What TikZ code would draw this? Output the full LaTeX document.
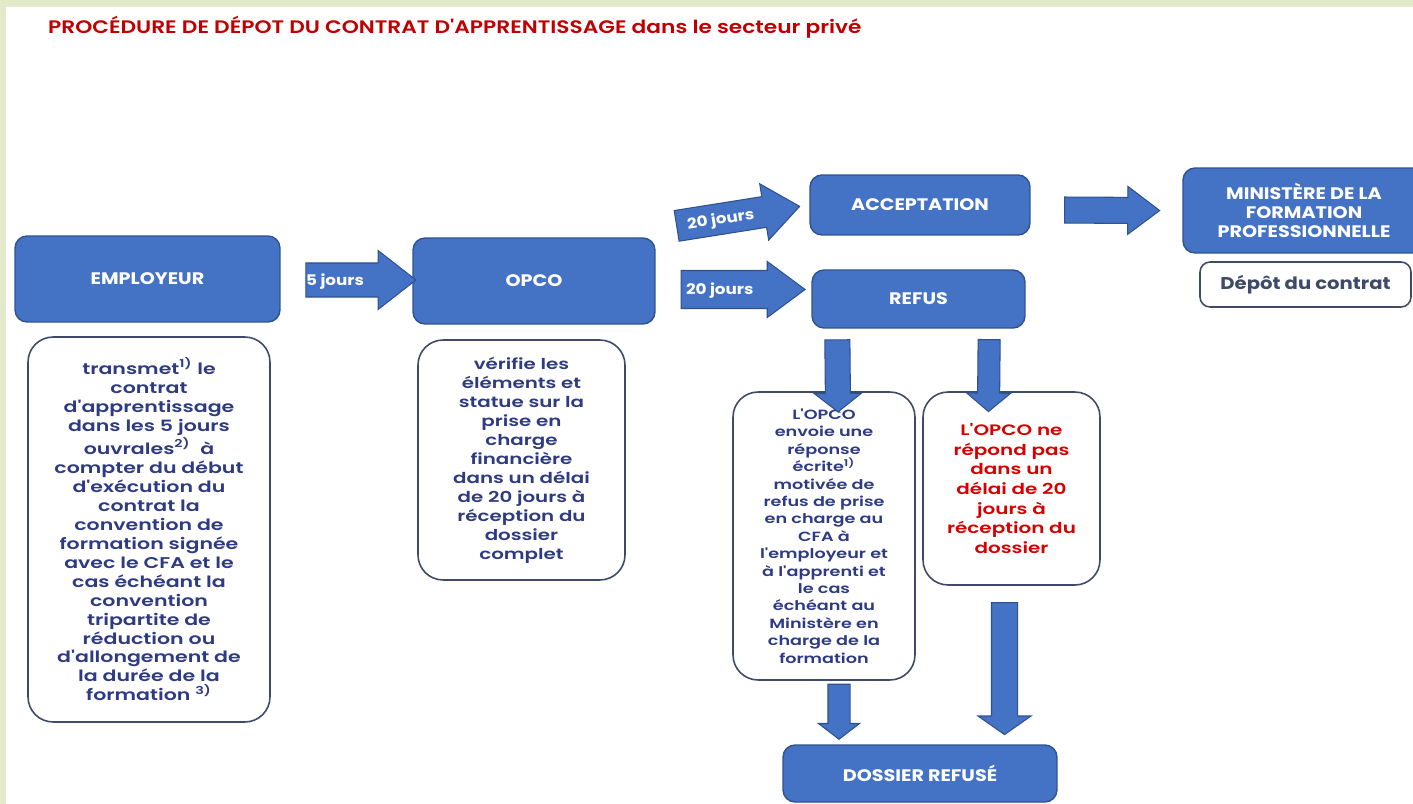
\documentclass[tikz,border=0pt]{standalone}
\usepackage{fontspec}
\setmainfont{Poppins}[FakeStretch=1.15]
\newfontfamily\notefont{Poppins SemiBold}[FakeStretch=1.32]
\newfontfamily\titlefont{Poppins SemiBold}[FakeStretch=1.2]
\usetikzlibrary{shapes.arrows,calc}

\definecolor{boxblue}{HTML}{4472C4}
\definecolor{boxline}{HTML}{2F528F}
\definecolor{noteline}{HTML}{3E4A68}
\definecolor{notetext}{HTML}{2E3B82}
\definecolor{titlered}{HTML}{C00000}
\definecolor{silencered}{HTML}{D60000}
\definecolor{framegreen}{HTML}{E2EACB}

\newcommand{\pastille}[2]{\makebox[0pt]{\raisebox{-0.36em}[0pt][0pt]{#2}\hspace{#1}}}

\tikzset{
  bluebox/.style={draw=boxline, fill=boxblue, line width=0.8pt, rounded corners=0.24cm,
    text=white, align=center, font=\bfseries\fontsize{9.5}{10.8}\selectfont},
  notebox/.style={draw=noteline, fill=white, line width=0.9pt, rounded corners=0.5cm,
    text=notetext, align=center, font=\notefont\fontsize{8.85}{10.8}\selectfont},
  blockarrow/.style={single arrow, draw=boxline, fill=boxblue, line width=0.6pt,
    inner xsep=0pt, minimum width=0pt, text height=0pt, text depth=0pt,
    text=white, font=\bfseries\fontsize{8.3}{9.6}\selectfont,
    midway, sloped, allow upside down},
}

\begin{document}
\begin{tikzpicture}[x=0.02cm,y=-0.02cm]
	\useasboundingbox (0,0) rectangle (1413,804);
	\fill[framegreen] (0,0) rectangle (1413,804);
	\fill[white] (6,7) rectangle (1413,804);

	\node[anchor=west, text=titlered, font=\titlefont\fontsize{10.3}{12.6}\selectfont] (titre) at (42,27)
		{PROCÉDURE DE DÉPOT DU CONTRAT D'APPRENTISSAGE dans le secteur privé};

	\coordinate (E) at (147.5,279);
	\coordinate (O) at (534,281);
	\coordinate (A) at (920,205);
	\coordinate (R) at (918.5,299);
	\coordinate (M) at (1304,210.5);
	\coordinate (D) at (1305.5,284.5);
	\coordinate (TE) at (149,529.5);
	\coordinate (TO) at (521.5,460);
	\coordinate (TL) at (824,536);
	\coordinate (TS) at (1011.5,488.5);
	\coordinate (F) at (920,773.5);

	\node[bluebox, minimum width=5.3cm, minimum height=1.72cm] (emp) at (E) {EMPLOYEUR};
	\node[bluebox, minimum width=4.84cm, minimum height=1.72cm] (opco) at (O) {OPCO};
	\node[bluebox, minimum width=4.4cm, minimum height=1.2cm] (acc) at (A) {ACCEPTATION};
	\node[bluebox, minimum width=4.26cm, minimum height=1.16cm] (refus) at (R) {REFUS};
	\node[bluebox, minimum width=4.84cm, minimum height=1.7cm] (mfp) at (M)
		{MINISTÈRE DE LA\\FORMATION\\PROFESSIONNELLE};
	\node[notebox, rounded corners=0.2cm, text=noteline, font=\bfseries\fontsize{9.7}{12}\selectfont,
		minimum width=4.22cm, minimum height=0.9cm] (depot) at (D) {Dépôt du contrat};
	\node[bluebox, minimum width=5.48cm, minimum height=1.14cm] (dossier) at (F) {DOSSIER REFUSÉ};

	\node[notebox, minimum width=4.84cm, minimum height=7.7cm] (temp) at (TE)
		{transmet\textsuperscript{1)} le\\contrat\\d'apprentissage\\dans les 5 jours\\
		ouvrales\textsuperscript{2)}\ \ à\\compter du début\\d'exécution du\\contrat la\\
		convention de\\formation signée\\avec le CFA et le\\cas échéant la\\convention\\
		tripartite de\\réduction ou\\d'allongement de\\la durée de la\\formation \textsuperscript{3)}};
	\node[notebox, font=\notefont\fontsize{8.55}{10.8}\selectfont, minimum width=4.14cm, minimum height=4.8cm] (topco) at (TO)
		{vérifie les\\éléments et\\statue sur la\\prise en\\charge\\financière\\
		dans un délai\\de 20 jours à\\réception du\\dossier\\complet};
	\node[notebox, font=\notefont\fontsize{7.6}{9.9}\selectfont, minimum width=3.64cm, minimum height=5.76cm] (tlettre) at (TL)
		{L'OPCO\\envoie une\\réponse\\écrite\textsuperscript{1)}\\motivée de\\refus de prise\\
		en charge au\\CFA à\\l'employeur et\\à l'apprenti et\\le cas\\échéant au\\
		Ministère en\\charge de la\\formation};
	\node[notebox, text=silencered, font=\notefont\fontsize{8.6}{11.2}\selectfont, minimum width=3.54cm, minimum height=3.86cm] (tsilence) at (TS)
		{L'OPCO ne\\répond pas\\dans un\\délai de 20\\jours à\\réception du\\dossier};

	\path ($(emp.east)+(15,1)$) -- ($(opco.west)+(-8,-1)$)
		node[blockarrow, minimum height=2.2cm, inner ysep=0.33cm,
			single arrow head extend=0.25cm, single arrow tip angle=76] {\pastille{0.6cm}{5 jours}};
	\path ($(opco.north east)+(12,-10)$) -- ($(acc.west)+(-20,3)$)
		node[blockarrow, minimum height=2.49cm, inner ysep=0.3cm,
			single arrow head extend=0.26cm, single arrow tip angle=77] {\pastille{0.32cm}{20 jours}};
	\path ($(opco.east)+(13,8.5)$) -- ($(refus.west)+(-19.5,-9.5)$)
		node[blockarrow, minimum height=2.48cm, inner ysep=0.37cm,
			single arrow head extend=0.18cm, single arrow tip angle=73] {\pastille{0.42cm}{20 jours}};
	\path ($(acc.east)+(26,5)$) -- ($(mfp.west)+(-32,0)$)
		node[blockarrow, minimum height=1.9cm, inner ysep=0.25cm,
			single arrow head extend=0.22cm, single arrow tip angle=74] {};
	\path ($(refus.south west)+(26,7)$) -- ($(tlettre.north)+(14,15)$)
		node[blockarrow, minimum height=1.44cm, inner ysep=0.24cm,
			single arrow head extend=0.22cm, single arrow tip angle=104] {};
	\path ($(refus.south east)+(-36.5,7)$) -- ($(tsilence.north)+(-23,15)$)
		node[blockarrow, minimum height=1.44cm, inner ysep=0.21cm,
			single arrow head extend=0.22cm, single arrow tip angle=100] {};
	\path ($(tlettre.south)+(15,0)$) -- ($(dossier.north)+(-81,-10)$)
		node[blockarrow, minimum height=1.1cm, inner ysep=0.21cm,
			single arrow head extend=0.19cm, single arrow tip angle=105] {};
	\path ($(tsilence.south)+(-7,13)$) -- ($(dossier.north)+(84.5,-15)$)
		node[blockarrow, minimum height=2.64cm, inner ysep=0.25cm,
			single arrow head extend=0.27cm, single arrow tip angle=110] {};
\end{tikzpicture}
\end{document}
